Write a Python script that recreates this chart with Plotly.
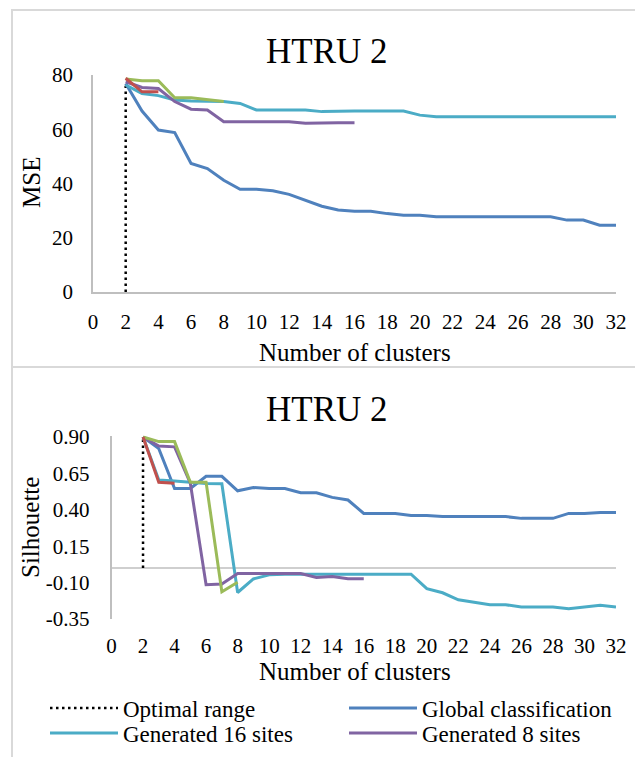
import plotly.graph_objects as go

# ---------------- data ----------------
clusters_global = list(range(2, 33))
clusters_16 = list(range(2, 33))
clusters_8 = list(range(2, 17))
clusters_4 = list(range(2, 9))
clusters_2 = list(range(2, 5))

mse_global = [76.9, 66.7, 59.7, 58.8, 47.4, 45.5, 41.2, 37.9, 37.9, 37.3, 36.0,
              33.8, 31.6, 30.2, 29.8, 29.8, 28.9, 28.3, 28.3, 27.7, 27.7, 27.7,
              27.7, 27.7, 27.7, 27.7, 27.7, 26.5, 26.5, 24.6, 24.6]
mse_16 = [76.3, 73.2, 72.4, 70.8, 70.4, 70.4, 70.2, 69.5, 67.1, 67.1, 67.1,
          67.1, 66.5, 66.7, 66.7, 66.7, 66.7, 66.7, 65.2, 64.6, 64.6, 64.6,
          64.6, 64.6, 64.6, 64.6, 64.6, 64.6, 64.6, 64.6, 64.6]
mse_8 = [77.5, 75.4, 75.0, 70.2, 67.4, 67.1, 62.8, 62.8, 62.8, 62.8, 62.8,
         62.2, 62.4, 62.4, 62.4]
mse_4 = [78.5, 77.9, 77.9, 71.6, 71.6, 70.8, 70.2]
mse_2 = [78.8, 73.8, 73.8]

sil_global = [0.90, 0.82, 0.546, 0.546, 0.63, 0.63, 0.53, 0.553, 0.546, 0.546,
              0.517, 0.517, 0.485, 0.467, 0.375, 0.375, 0.375, 0.36, 0.36,
              0.353, 0.353, 0.353, 0.353, 0.353, 0.341, 0.341, 0.341, 0.375,
              0.375, 0.382, 0.382]
sil_16 = [0.90, 0.605, 0.597, 0.587, 0.58, 0.578, -0.168, -0.075, -0.047,
          -0.042, -0.042, -0.042, -0.042, -0.042, -0.042, -0.042, -0.042,
          -0.042, -0.142, -0.17, -0.218, -0.234, -0.252, -0.252, -0.268,
          -0.268, -0.268, -0.28, -0.268, -0.256, -0.268]
sil_8 = [0.90, 0.838, 0.832, 0.582, -0.115, -0.11, -0.038, -0.038, -0.038,
         -0.038, -0.038, -0.065, -0.058, -0.074, -0.074]
sil_4 = [0.90, 0.868, 0.868, 0.589, 0.589, -0.163, -0.098]
sil_2 = [0.90, 0.589, 0.582]

optimal_k = [2, 2]
optimal_mse = [0, 76]
optimal_sil = [0, 0.9]

x_ticks = list(range(0, 33, 2))
mse_ticks = [0, 20, 40, 60, 80]
sil_ticks = [-0.35, -0.10, 0.15, 0.40, 0.65, 0.90]
sil_tick_text = ["-0.35", "-0.10", "0.15", "0.40", "0.65", "0.90"]

# ---------------- style ----------------
W, H = 635, 757
FONT = "Liberation Serif"
C_GLOBAL = "#4F81BD"
C_16 = "#4BACC6"
C_8 = "#8064A2"
C_4 = "#9BBB59"
C_2 = "#C0504D"
AXC = "#BFBFBF"
LW = 3
DOT = "2.5px,3.5px"


def px(x):
    return x / W


def py(y):
    return 1 - y / H


fig = go.Figure()

panels = [
    ("x", "y", mse_global, mse_16, mse_8, mse_4, mse_2, optimal_mse, True),
    ("x2", "y2", sil_global, sil_16, sil_8, sil_4, sil_2, optimal_sil, False),
]
for xa, ya, g, s16, s8, s4, s2, opt, leg in panels:
    fig.add_trace(go.Scatter(x=optimal_k, y=opt, xaxis=xa, yaxis=ya, mode="lines",
                             name="Optimal range", legendgroup="opt", showlegend=leg,
                             legend="legend",
                             line=dict(color="black", width=2.5, dash=DOT)))
    fig.add_trace(go.Scatter(x=clusters_global, y=g, xaxis=xa, yaxis=ya, mode="lines",
                             name="Global classification", legendgroup="g", showlegend=leg,
                             legend="legend2",
                             line=dict(color=C_GLOBAL, width=LW)))
    fig.add_trace(go.Scatter(x=clusters_16, y=s16, xaxis=xa, yaxis=ya, mode="lines",
                             name="Generated 16 sites", legendgroup="16", showlegend=leg,
                             legend="legend3",
                             line=dict(color=C_16, width=LW)))
    fig.add_trace(go.Scatter(x=clusters_8, y=s8, xaxis=xa, yaxis=ya, mode="lines",
                             name="Generated 8 sites", legendgroup="8", showlegend=leg,
                             legend="legend4",
                             line=dict(color=C_8, width=LW)))
    fig.add_trace(go.Scatter(x=clusters_4, y=s4, xaxis=xa, yaxis=ya, mode="lines",
                             name="Generated 4 sites", legendgroup="4", showlegend=False,
                             line=dict(color=C_4, width=LW)))
    fig.add_trace(go.Scatter(x=clusters_2, y=s2, xaxis=xa, yaxis=ya, mode="lines",
                             name="Generated 2 sites", legendgroup="2", showlegend=False,
                             line=dict(color=C_2, width=LW)))

tickfont = dict(family=FONT, size=21, color="black")

fig.update_layout(
    xaxis=dict(domain=[px(93), px(616)], range=[0, 32], tickvals=x_ticks,
               showgrid=False, zeroline=False, showline=True, linecolor=AXC,
               linewidth=1.5, ticks="", tickfont=tickfont, ticklabelstandoff=10,
               fixedrange=True),
    yaxis=dict(domain=[py(292), py(75)], range=[0, 80], tickvals=mse_ticks,
               showgrid=False, zeroline=False, showline=True, linecolor=AXC,
               linewidth=1.5, ticks="", tickfont=tickfont, ticklabelstandoff=14,
               fixedrange=True),
    xaxis2=dict(domain=[px(111.5), px(616)], range=[0, 32], tickvals=x_ticks,
                anchor="y2", showgrid=False, zeroline=False, showline=False,
                ticks="", tickfont=tickfont, ticklabelstandoff=12, fixedrange=True),
    yaxis2=dict(domain=[py(619), py(435.5)], range=[-0.35, 0.91], tickvals=sil_ticks,
                ticktext=sil_tick_text, anchor="x2", showgrid=False,
                zeroline=False, showline=True, linecolor=AXC, linewidth=1.5,
                ticks="", tickfont=tickfont, ticklabelstandoff=16, fixedrange=True),
)

# horizontal axis line of the silhouette panel crosses at 0
fig.add_shape(type="line", xref="x2 domain", yref="y2", x0=0, x1=1, y0=0, y1=0,
              line=dict(color=AXC, width=1.5), layer="below")

# panel borders
fig.add_shape(type="rect", xref="paper", yref="paper", x0=px(12), x1=1.05,
              y0=py(367), y1=py(10), line=dict(color="#D9D9D9", width=2))
fig.add_shape(type="rect", xref="paper", yref="paper", x0=px(12), x1=1.05,
              y0=-0.05, y1=py(367), line=dict(color="#D9D9D9", width=2))

ann = []
def text(t, x, y, size, angle=0):
    ann.append(dict(text=t, x=px(x), y=py(y), xref="paper", yref="paper",
                    showarrow=False, xanchor="center", yanchor="middle",
                    textangle=angle, font=dict(family=FONT, size=size, color="black")))

text("HTRU 2", 327, 51, 35)
text("Number of clusters", 355, 352, 25)
text("MSE", 31, 183, 25, -90)
text("HTRU 2", 327, 410, 35)
text("Number of clusters", 355, 671, 25)
text("Silhouette", 30, 528, 25, -90)

legfont = dict(family=FONT, size=23, color="black")
def leg(x, y):
    return dict(orientation="h", x=px(x), y=py(y), xanchor="left", yanchor="middle",
                font=legfont, itemwidth=68, bgcolor="rgba(0,0,0,0)")

fig.update_layout(
    width=W, height=H, autosize=False,
    margin=dict(l=0, r=0, t=0, b=0, pad=0, autoexpand=False),
    paper_bgcolor="white", plot_bgcolor="white",
    annotations=ann,
    showlegend=True,
    legend=leg(45, 708),
    legend2=leg(344, 708),
    legend3=leg(45, 733),
    legend4=leg(344, 733),
)

fig.write_html("out.html", config={"displayModeBar": False},
               post_script="document.body.style.margin='0px';")
